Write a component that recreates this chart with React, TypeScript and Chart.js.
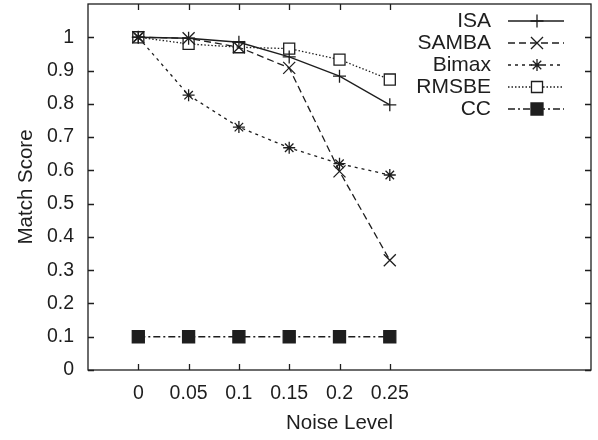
import React, { useEffect, useRef } from 'react';
import { Chart, registerables } from 'chart.js';
import { drawPoint } from 'chart.js/helpers';

Chart.register(...registerables);

const noiseLevels = [0, 0.05, 0.1, 0.15, 0.2, 0.25];
const isaScores = [1, 0.997, 0.985, 0.941, 0.883, 0.797];
const sambaScores = [1, 0.997, 0.97, 0.908, 0.597, 0.33];
const bimaxScores = [1, 0.826, 0.73, 0.668, 0.62, 0.586];
const rmsbeScores = [1, 0.98, 0.97, 0.966, 0.933, 0.873];
const ccScores = [0.1, 0.1, 0.1, 0.1, 0.1, 0.1];

const seriesLabels = ['ISA', 'SAMBA', 'Bimax', 'RMSBE', 'CC'];
const xTickValues = [0, 0.05, 0.1, 0.15, 0.2, 0.25];
const xTickLabels = ['0', '0.05', '0.1', '0.15', '0.2', '0.25'];
const yTickValues = [0, 0.1, 0.2, 0.3, 0.4, 0.5, 0.6, 0.7, 0.8, 0.9, 1];
const yTickLabels = ['0', '0.1', '0.2', '0.3', '0.4', '0.5', '0.6', '0.7', '0.8', '0.9', '1'];

const INK = '#1e1e1e';
const FONT = 'Liberation Sans';

const toPoints = (ys: number[]) => noiseLevels.map((x, i) => ({ x, y: ys[i] }));

const frameAndLegend = {
  id: 'frameAndLegend',
  afterDraw(chart: any) {
    const { ctx, chartArea } = chart;
    const { left, right, top, bottom } = chartArea;
    ctx.save();
    ctx.strokeStyle = INK;
    ctx.lineWidth = 1.3;
    ctx.setLineDash([]);
    ctx.strokeRect(left, top, right - left, bottom - top);
    const tl = 6;
    const xs = chart.scales.x;
    const ys = chart.scales.y;
    ctx.beginPath();
    xTickValues.forEach((v) => {
      const px = Math.round(xs.getPixelForValue(v)) + 0.5;
      ctx.moveTo(px, bottom);
      ctx.lineTo(px, bottom - tl);
      ctx.moveTo(px, top);
      ctx.lineTo(px, top + tl);
    });
    yTickValues.forEach((v) => {
      const py = Math.round(ys.getPixelForValue(v)) + 0.5;
      ctx.moveTo(left, py);
      ctx.lineTo(left + tl, py);
      ctx.moveTo(right, py);
      ctx.lineTo(right - tl, py);
    });
    ctx.stroke();

    // legend
    ctx.font = `21px "${FONT}"`;
    ctx.textAlign = 'right';
    ctx.textBaseline = 'middle';
    chart.data.datasets.forEach((ds: any, i: number) => {
      const y = 21 + i * 22;
      ctx.fillStyle = INK;
      ctx.fillText(ds.label, 491, y);
      ctx.strokeStyle = INK;
      ctx.lineWidth = ds.borderWidth;
      ctx.setLineDash(ds.borderDash || []);
      ctx.beginPath();
      ctx.moveTo(508, y);
      ctx.lineTo(564, y);
      ctx.stroke();
      ctx.setLineDash([]);
      ctx.fillStyle = ds.pointBackgroundColor;
      ctx.strokeStyle = INK;
      ctx.lineWidth = ds.pointBorderWidth;
      drawPoint(ctx, { pointStyle: ds.pointStyle, radius: ds.pointRadius, borderWidth: ds.pointBorderWidth, rotation: 0 }, 537, y);
    });
    ctx.restore();
  },
};

export default function App() {
  const ref = useRef<HTMLCanvasElement | null>(null);
  useEffect(() => {
    document.body.style.margin = '0';
    const canvas = ref.current;
    if (!canvas) return;
    const common = {
      borderColor: INK,
      borderWidth: 1.3,
      pointBorderColor: INK,
      pointBorderWidth: 1.3,
      tension: 0,
      fill: false,
    };
    const chart = new Chart(canvas, {
      type: 'line',
      data: {
        datasets: [
          { ...common, label: seriesLabels[0], data: toPoints(isaScores), pointStyle: 'cross', pointRadius: 6.5, pointBackgroundColor: INK },
          { ...common, label: seriesLabels[1], data: toPoints(sambaScores), borderDash: [7, 4], pointStyle: 'crossRot', pointRadius: 8.5, pointBackgroundColor: INK },
          { ...common, label: seriesLabels[2], data: toPoints(bimaxScores), borderDash: [3, 4], pointStyle: 'star', pointRadius: 6, pointBackgroundColor: INK },
          { ...common, label: seriesLabels[3], data: toPoints(rmsbeScores), borderDash: [1.5, 2], pointStyle: 'rect', pointRadius: 7.8, pointBackgroundColor: '#fff' },
          { ...common, label: seriesLabels[4], data: toPoints(ccScores), borderDash: [7, 3, 2, 3], pointStyle: 'rect', pointRadius: 8.5, pointBackgroundColor: INK },
        ],
      },
      options: {
        responsive: false,
        animation: false,
        events: [],
        layout: { autoPadding: false, padding: { top: 4, right: 7, left: 0, bottom: 0 } },
        plugins: { legend: { display: false }, tooltip: { enabled: false } },
        scales: {
          x: {
            type: 'linear',
            min: -0.05,
            max: 0.45,
            afterBuildTicks: (s: any) => { s.ticks = xTickValues.map((v) => ({ value: v })); },
            afterFit: (s: any) => { s.height = 70; s.paddingLeft = 0; s.paddingRight = 0; s.paddingTop = 0; s.paddingBottom = 0; },
            grid: { display: false, drawTicks: false },
            border: { display: false },
            ticks: {
              autoSkip: false,
              maxRotation: 0,
              padding: 12,
              color: INK,
              font: { family: FONT, size: 19.5 },
              callback: (_v: any, i: number) => xTickLabels[i],
            },
            title: { display: true, text: 'Noise Level', color: INK, font: { family: FONT, size: 20.5 }, padding: { top: 0, bottom: 4.5 } },
          },
          y: {
            type: 'linear',
            min: 0,
            max: 1.1,
            afterBuildTicks: (s: any) => { s.ticks = yTickValues.map((v) => ({ value: v })); },
            afterFit: (s: any) => { s.width = 88; s.paddingLeft = 0; s.paddingRight = 0; s.paddingTop = 0; s.paddingBottom = 0; },
            grid: { display: false, drawTicks: false },
            border: { display: false },
            ticks: {
              autoSkip: false,
              padding: 14,
              color: INK,
              font: { family: FONT, size: 19.5 },
              callback: (_v: any, i: number) => yTickLabels[i],
            },
            title: { display: true, text: 'Match Score', color: INK, font: { family: FONT, size: 20.5 }, padding: { top: 14, bottom: 0 } },
          },
        },
      },
      plugins: [frameAndLegend],
    } as any);
    return () => chart.destroy();
  }, []);
  return (
    <div style={{ position: 'absolute', left: 0, top: 0 }}>
      <canvas ref={ref} width={598} height={440} style={{ display: 'block', width: 598, height: 440 }} />
    </div>
  );
}
